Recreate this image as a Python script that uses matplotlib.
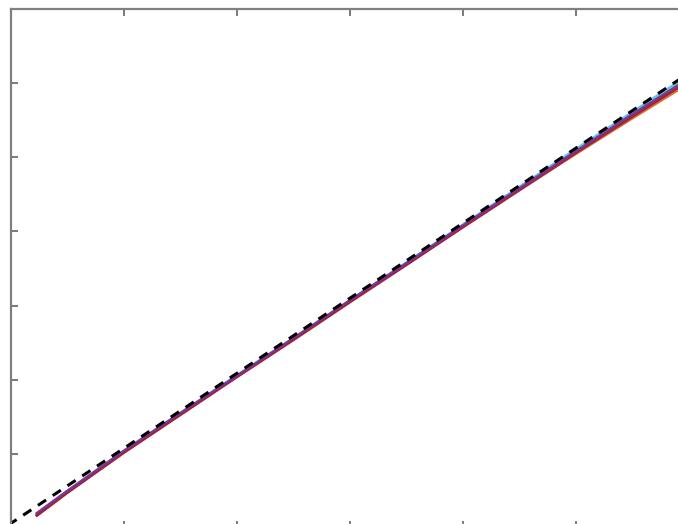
import matplotlib
matplotlib.use("Agg")
import matplotlib.pyplot as plt

# x positions shared by the simulated curves
x = [0.22, 0.5, 1.0, 1.5, 2.0, 2.5, 3.0, 3.5, 4.0, 4.5, 5.0, 5.5, 6.0]

# simulated curves (MATLAB default colour order)
curves = {
    "#0072BD": [0.17, 0.49, 1.03, 1.54, 2.05, 2.55, 3.06, 3.57, 4.08, 4.58, 5.08, 5.57, 6.05],
    "#D95319": [0.16, 0.48, 1.02, 1.53, 2.04, 2.54, 3.05, 3.56, 4.06, 4.56, 5.05, 5.53, 6.00],
    "#EDB120": [0.17, 0.49, 1.03, 1.54, 2.05, 2.55, 3.06, 3.57, 4.07, 4.57, 5.06, 5.55, 6.02],
    "#77AC30": [0.17, 0.49, 1.03, 1.54, 2.05, 2.55, 3.06, 3.57, 4.08, 4.58, 5.08, 5.58, 6.07],
    "#4DBEEE": [0.18, 0.50, 1.04, 1.55, 2.06, 2.56, 3.07, 3.58, 4.09, 4.60, 5.11, 5.61, 6.11],
    "#A2142F": [0.16, 0.48, 1.02, 1.53, 2.04, 2.54, 3.05, 3.55, 4.06, 4.56, 5.06, 5.55, 6.03],
    "#7E2F8E": [0.19, 0.50, 1.04, 1.55, 2.05, 2.56, 3.07, 3.57, 4.08, 4.58, 5.08, 5.58, 6.06],
}

# reference (dashed) line
ref_x = [-0.3, 6.3]
ref_y = [-0.24, 6.44]

xticks = [1, 2, 3, 4, 5]
yticks = [1, 2, 3, 4, 5, 6]

fig = plt.figure(figsize=(6.78, 5.24), dpi=100)
ax = fig.add_axes([11 / 678, -4 / 524, 678 / 678, 519 / 524])

for col, vals in curves.items():
    ax.plot(x, vals, color=col, lw=2.0, solid_capstyle="butt", alpha=0.9)
ax.plot(ref_x, ref_y, color="black", lw=2.2, linestyle=(0, (3.2, 2.6)))

ax.set_xlim(0, 6)
ax.set_ylim(0, 7)
ax.set_xticks(xticks)
ax.set_yticks(yticks)
ax.set_xticklabels([])
ax.set_yticklabels([])
ax.tick_params(direction="in", length=5, width=1.3, color="#707070",
               top=True, right=True)
for s in ax.spines.values():
    s.set_color("#808080")
    s.set_linewidth(1.6)

fig.savefig("out.png", dpi=100)
